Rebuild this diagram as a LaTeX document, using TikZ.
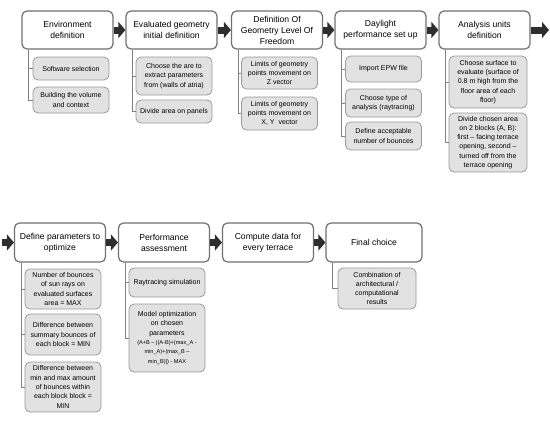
\documentclass[tikz,border=0pt]{standalone}
\usepackage{fontspec}
\setmainfont{Liberation Sans}
\usetikzlibrary{arrows.meta}

\definecolor{boxline}{HTML}{707070}
\definecolor{subfill}{HTML}{E2E2E2}
\definecolor{subline}{HTML}{9A9A9A}
\definecolor{linkgray}{HTML}{808080}
\definecolor{arrowdark}{HTML}{2E2E2E}

\begin{document}
\begin{tikzpicture}[x=1pt,y=-1pt]
    \tikzstyle{stage}    = [draw=boxline,line width=1.2pt,fill=white,rounded corners=5pt,
                            minimum width=91pt,minimum height=38pt,align=center,inner sep=1pt,
                            font=\fontsize{8.6}{11}\selectfont]
    \tikzstyle{task}     = [draw=subline,line width=0.8pt,fill=subfill,rounded corners=5pt,
                            minimum width=76pt,align=center,inner sep=1pt,
                            font=\fontsize{7}{9.3}\selectfont]
    \tikzstyle{link}     = [draw=linkgray,line width=0.7pt]
    \tikzstyle{flow}     = [arrowdark,line width=7pt,-{Triangle[width=16pt,length=7pt]}]

    \useasboundingbox (0,0) rectangle (550,421);

    % first row
    \node[stage] (env)   at (67.5,30)  {Environment\\definition};
    \node[stage] (geom)  at (171.5,30) {Evaluated geometry\\initial definition};
    \node[stage] (dof)   at (277,30)   {Definition Of\\Geometry Level Of\\Freedom};
    \node[stage] (day)   at (380.5,30) {Daylight\\performance set up};
    \node[stage] (units) at (484.5,30) {Analysis units\\definition};

    \node[task,minimum height=23pt] (envA)   at (71,68.5)    {Software selection};
    \node[task,minimum height=26pt] (envB)   at (71,100)     {Building the volume\\and context};
    \node[task,minimum height=38pt] (geomA)  at (174,76)     {Choose the are to\\extract parameters\\from (walls of atria)};
    \node[task,minimum height=23pt] (geomB)  at (174,111.5)  {Divide area on panels};
    \node[task,minimum height=32pt] (dofA)   at (279.5,73)   {Limits of geometry\\points movement on\\Z vector};
    \node[task,minimum height=33pt] (dofB)   at (279.5,113.5){Limits of geometry\\points movement on\\X, Y\ \ vector};
    \node[task,minimum height=26pt] (dayA)   at (383.5,69)   {Import EPW file};
    \node[task,minimum height=28pt] (dayB)   at (383.5,103)  {Choose type of\\analysis (raytracing)};
    \node[task,minimum height=28pt] (dayC)   at (383.5,136)  {Define acceptable\\number of bounces};
    \node[task,minimum width=78pt,minimum height=52pt] (unitsA) at (488,82)
        {Choose surface to\\evaluate (surface of\\0.8 m high from the\\floor area of each\\floor)};
    \node[task,minimum width=78pt,minimum height=59pt] (unitsB) at (488,142.5)
        {Divide chosen area\\on 2 blocks (A, B):\\first – facing terrace\\opening, second –\\turned off from the\\terrace opening};

    % second row
    \node[stage,minimum height=39pt] (param) at (60,242.5)  {Define parameters to\\optimize};
    \node[stage,minimum height=39pt] (perf)  at (164,242.5) {Performance\\assessment};
    \node[stage,minimum height=39pt] (comp)  at (268,242.5) {Compute data for\\every terrace};
    \node[stage,minimum height=39pt,minimum width=96pt] (final) at (374,242.5) {Final choice};

    \node[task,minimum height=40pt] (paramA) at (63,289)   {Number of bounces\\of sun rays on\\evaluated surfaces\\area = MAX};
    \node[task,minimum height=41pt] (paramB) at (63,334.5) {Difference between\\summary bounces of\\each block = MIN};
    \node[task,minimum height=50pt] (paramC) at (63,387)   {Difference between\\min and max amount\\of bounces within\\each block block =\\MIN};
    \node[task,minimum height=29pt] (perfA)  at (167,282.5){Raytracing simulation};
    \node[task,minimum height=68pt] (perfB)  at (167,338)
        {Model optimization\\on chosen\\parameters\\\fontsize{5.6}{6.8}\selectfont (A+B – |(A-B)+(max\_A -\\\fontsize{5.6}{6.8}\selectfont min\_A)+(max\_B –\\\fontsize{5.6}{6.8}\selectfont min\_B)|) - MAX};
    \node[task,minimum width=78pt,minimum height=41pt] (finalA) at (377,288.5)
        {Combination of\\architectural /\\computational\\results};

    \coordinate (out1) at (549,30);
    \coordinate (in2)  at (2,242.5);

    % connectors from each stage to its tasks
    \foreach \stg/\tsk in {env/envA,env/envB,geom/geomA,geom/geomB,dof/dofA,dof/dofB,
                           day/dayA,day/dayB,day/dayC,units/unitsA,units/unitsB,
                           param/paramA,param/paramB,param/paramC,perf/perfA,perf/perfB,
                           final/finalA}
        \draw[link] ([xshift=7pt]\stg.south west) |- (\tsk.west);

    % flow arrows
    \draw[flow] (env)   -- (geom);
    \draw[flow] (geom)  -- (dof);
    \draw[flow] (dof)   -- (day);
    \draw[flow] (day)   -- (units);
    \draw[flow] (units) -- (out1);
    \draw[flow] (in2)   -- (param);
    \draw[flow] (param) -- (perf);
    \draw[flow] (perf)  -- (comp);
    \draw[flow] (comp)  -- (final);
\end{tikzpicture}
\end{document}
